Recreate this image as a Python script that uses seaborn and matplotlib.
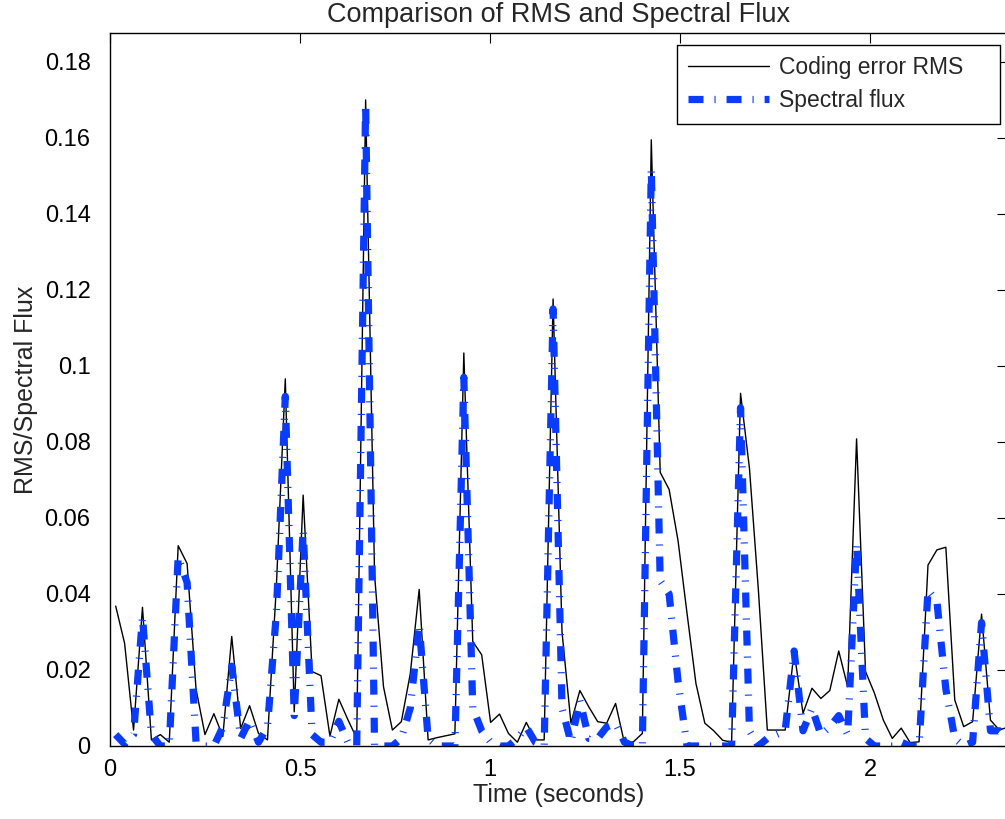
import matplotlib as mpl
mpl.use('Agg')
import matplotlib.pyplot as plt
import seaborn as sns
import numpy as np
import pandas as pd

# frame start / hop (seconds)
t_start = 0.015
hop = 0.02349

rms = [0.0368, 0.027, 0.0042, 0.0365, 0.0016, 0.003, 0.001, 0.0527, 0.048, 0.015,
       0.003, 0.0085, 0.0025, 0.0288, 0.0046, 0.0106, 0.0033, 0.0016, 0.042, 0.0966,
       0.009, 0.066, 0.0196, 0.0185, 0.0026, 0.0123, 0.007, 0.002, 0.170, 0.045,
       0.0156, 0.0042, 0.0064, 0.019, 0.0412, 0.0016, 0.0022, 0.0027, 0.0032, 0.1034,
       0.0275, 0.024, 0.0062, 0.0084, 0.0033, 0.001, 0.0062, 0.0016, 0.0016, 0.1176,
       0.03, 0.006, 0.0146, 0.0103, 0.0064, 0.006, 0.0112, 0.0007, 0.0011, 0.0033,
       0.1595, 0.072, 0.0675, 0.054, 0.035, 0.0165, 0.006, 0.004, 0.0015, 0.001,
       0.0928, 0.073, 0.041, 0.0042, 0.0042, 0.0042, 0.0248, 0.0086, 0.0152, 0.0125,
       0.0146, 0.025, 0.0156, 0.0808, 0.0196, 0.0139, 0.0068, 0.002, 0.0047, 0.0009,
       0.0011, 0.0476, 0.0516, 0.0523, 0.0121, 0.0051, 0.0064, 0.0347, 0.0068, 0.0042,
       0.005]

flux = [0.003, 0.0005, 0.003, 0.034, 0.003, 0.0, 0.0, 0.0498, 0.043, 0.001,
        0.0, 0.0, 0.005, 0.021, 0.002, 0.0068, 0.001, 0.005, 0.035, 0.092,
        0.008, 0.057, 0.003, 0.001, 0.001, 0.0065, 0.001, 0.0, 0.169, 0.0,
        0.0, 0.0, 0.002, 0.01, 0.032, 0.002, 0.0, 0.0, 0.0, 0.097,
        0.01, 0.004, 0.001, 0.0, 0.0, 0.002, 0.005, 0.001, 0.0, 0.115,
        0.01, 0.001, 0.012, 0.002, 0.002, 0.005, 0.006, 0.001, 0.0, 0.0,
        0.152, 0.0435, 0.04, 0.017, 0.0, 0.0, 0.0, 0.0, 0.0, 0.0,
        0.089, 0.004, 0.0, 0.002, 0.003, 0.004, 0.025, 0.004, 0.01, 0.003,
        0.005, 0.008, 0.003, 0.0534, 0.002, 0.0, 0.0, 0.0, 0.001, 0.0,
        0.0, 0.041, 0.038, 0.015, 0.002, 0.0, 0.001, 0.0325, 0.004, 0.004,
        0.002]

xticks = [0, 0.5, 1, 1.5, 2]
xticklabels = ['0', '0.5', '1', '1.5', '2']
yticks = [0, 0.02, 0.04, 0.06, 0.08, 0.1, 0.12, 0.14, 0.16, 0.18]
yticklabels = ['0', '0.02', '0.04', '0.06', '0.08', '0.1', '0.12', '0.14', '0.16', '0.18']

time = t_start + hop * np.arange(len(rms))
df = pd.DataFrame({'time': time, 'rms': rms, 'flux': flux})

sns.set_style('white')
plt.rcParams['font.family'] = ['Liberation Sans', 'DejaVu Sans']
plt.rcParams['lines.scale_dashes'] = False

fig = plt.figure(figsize=(10.05, 8.19), dpi=100)
# right edge of the box falls just outside the picture, as in the original
ax = fig.add_axes([110 / 1005, 73 / 819, 897 / 1005, 713 / 819])

sns.lineplot(data=df, x='time', y='rms', ax=ax, color='black', linewidth=1.0,
             sort=False, label='Coding error RMS')
sns.lineplot(data=df, x='time', y='flux', ax=ax, color='#0a3cff', linewidth=5.2,
             linestyle=(0, (10.8, 7.9, 0.8, 7.9)), sort=False, label='Spectral flux')

ax.set_xlim(0, 2.3605)
ax.set_ylim(0, 0.1876)
ax.set_xticks(xticks)
ax.set_xticklabels(xticklabels)
ax.set_yticks(yticks)
ax.set_yticklabels(yticklabels)
ax.tick_params(direction='in', top=True, right=True, length=7, width=0.8,
               labelsize=17, colors='black')
ax.tick_params(axis='x', pad=9)
ax.tick_params(axis='y', pad=14)
for s in ax.spines.values():
    s.set_visible(True)
    s.set_color('black')
    s.set_linewidth(1.0)

ax.set_xlabel('Time (seconds)', fontsize=18, labelpad=2)
ax.set_ylabel('RMS/Spectral Flux', fontsize=18, labelpad=5)
ax.set_title('Comparison of RMS and Spectral Flux', fontsize=19.5, pad=8)

# legend box spans roughly x 677..1000 px, y 45..123 px
x0 = (677 - 110) / 897
w = (1000 - 677) / 897
y1 = (746 - 45) / 713
h = 78 / 713
leg = ax.legend(loc='upper left', bbox_to_anchor=(x0, y1 - h, w, h), mode='expand',
                fontsize=16.5, frameon=True, fancybox=False, framealpha=1,
                edgecolor='black', handlelength=3.5, handletextpad=0.45,
                borderpad=0.5, labelspacing=0.42, borderaxespad=0)
leg.get_frame().set_linewidth(1.0)

fig.savefig('out.png', dpi=100)
